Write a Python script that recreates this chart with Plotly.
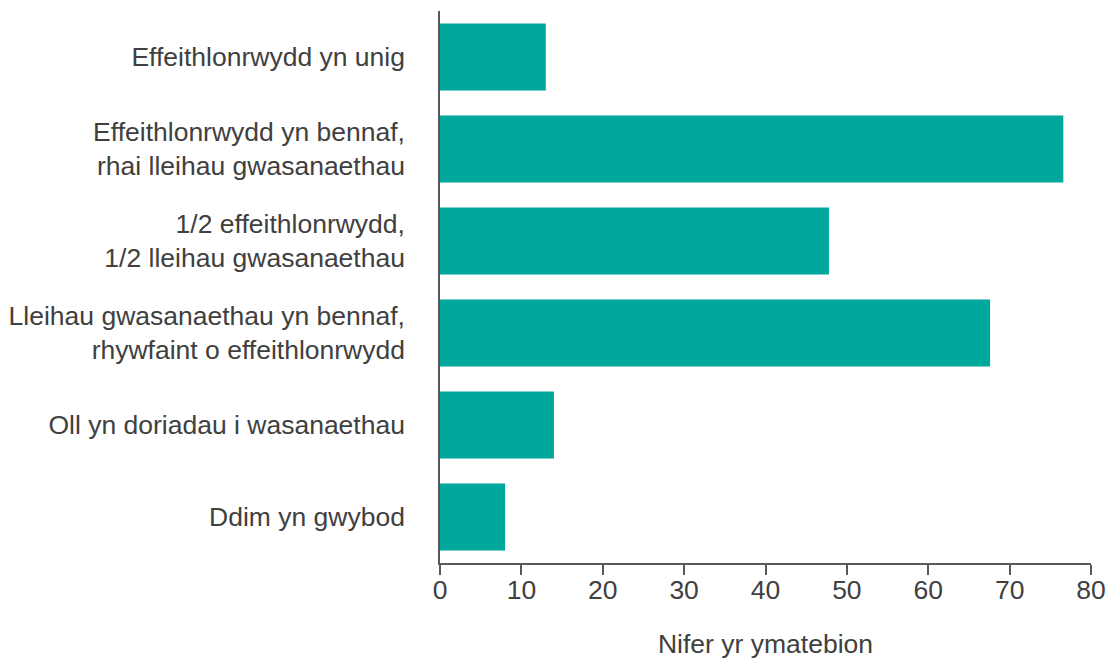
import plotly.graph_objects as go

categories = [
    "Effeithlonrwydd yn unig",
    "Effeithlonrwydd yn bennaf,<br>rhai lleihau gwasanaethau",
    "1/2 effeithlonrwydd,<br>1/2 lleihau gwasanaethau",
    "Lleihau gwasanaethau yn bennaf,<br>rhywfaint o effeithlonrwydd",
    "Oll yn doriadau i wasanaethau",
    "Ddim yn gwybod",
]
values = [13, 76.6, 47.8, 67.6, 14, 8]
x_ticks = [0, 10, 20, 30, 40, 50, 60, 70, 80]

font_family = "Liberation Sans, Arial, sans-serif"
text_color = "#404040"
fs = 26.5

fig = go.Figure(
    go.Bar(
        x=values,
        y=categories,
        orientation="h",
        marker=dict(color="#00A79D", line=dict(width=0)),
        width=0.73,
    )
)

fig.update_layout(
    width=1107,
    height=659,
    margin=dict(l=440, r=16, t=11, b=96),
    paper_bgcolor="white",
    plot_bgcolor="white",
    showlegend=False,
    font=dict(family=font_family, size=fs, color=text_color),
)

fig.update_xaxes(
    range=[0, 80],
    tickvals=x_ticks,
    ticks="outside",
    ticklen=10,
    tickwidth=1.5,
    tickcolor="#595959",
    showline=True,
    linecolor="#595959",
    linewidth=1.5,
    showgrid=False,
    zeroline=False,
    automargin=False,
    ticklabelstandoff=-8,
    tickfont=dict(size=fs, color=text_color),
    title=dict(text="Nifer yr ymatebion", font=dict(size=fs, color=text_color), standoff=32),
)

fig.update_yaxes(
    autorange="reversed",
    showline=True,
    linecolor="#595959",
    linewidth=1.5,
    showgrid=False,
    zeroline=False,
    automargin=False,
    ticks="",
    ticklabelstandoff=28,
    tickfont=dict(size=fs, color=text_color),
)

fig.write_html(
    "out.html",
    config={"displayModeBar": False},
    post_script="document.body.style.margin='0';document.body.style.padding='0';",
)
